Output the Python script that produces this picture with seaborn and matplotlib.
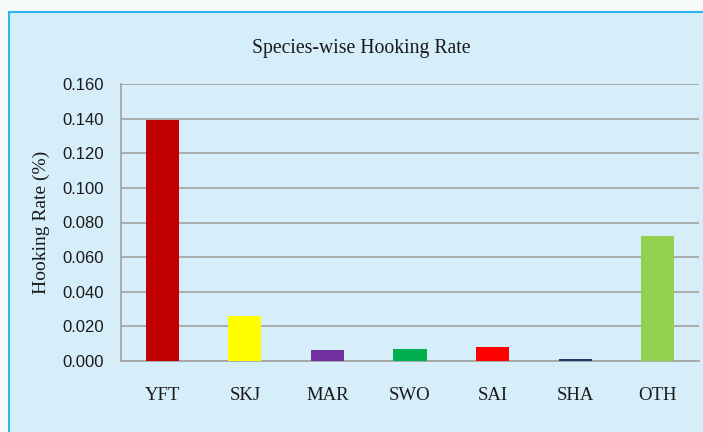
import matplotlib
matplotlib.use("Agg")
import matplotlib.pyplot as plt
import seaborn as sns
import pandas as pd
from matplotlib.patches import Rectangle

# Datos
especies = ["YFT", "SKJ", "MAR", "SWO", "SAI", "SHA", "OTH"]
tasa = [0.139, 0.026, 0.0064, 0.0069, 0.0081, 0.0012, 0.072]
colores = ["#C00000", "#FFFF00", "#7030A0", "#00B050", "#FF0000", "#1F3864", "#92D050"]
yticks = [0.0, 0.02, 0.04, 0.06, 0.08, 0.10, 0.12, 0.14, 0.16]

df = pd.DataFrame({"especie": especies, "tasa": tasa})

sns.set_style("white")
serif = ["Liberation Serif", "DejaVu Serif"]
sans = ["Liberation Sans", "DejaVu Sans"]

W, H = 703, 432
fig = plt.figure(figsize=(W / 100, H / 100), dpi=100)
fig.patch.set_facecolor("#F7FAFB")

# Recuadro de fondo azul claro
fig.patches.append(Rectangle((9 / W, -0.01), 1.0, (H - 12) / H + 0.01,
                             transform=fig.transFigure, facecolor="#D5EEF9",
                             edgecolor="#2BB5EA", linewidth=1.5, zorder=-5))

ax = fig.add_axes([121 / W, (H - 361) / H, (699 - 121) / W, (361 - 84) / H])
ax.set_zorder(2)
ax.set_facecolor("none")

sns.barplot(data=df, x="especie", y="tasa", hue="especie", palette=colores,
            width=0.4, legend=False, saturation=1, linewidth=0, ax=ax, zorder=3)

ax.set_ylim(0, 0.16)
ax.set_yticks(yticks)
ax.set_yticklabels([f"{v:.3f}" for v in yticks], family=sans, fontsize=12, color="#1a1a1a")
ax.set_xticks(range(len(especies)))
ax.set_xticklabels(especies, family=serif, fontsize=13.5, color="#1a1a1a")
ax.tick_params(axis="both", length=0)
ax.tick_params(axis="x", pad=19)
ax.tick_params(axis="y", pad=12)
ax.set_xlim(-0.5, len(especies) - 0.5)

ax.grid(axis="y", color="#A6A6A6", linewidth=1.3, zorder=0)
ax.set_axisbelow(True)
for s in ["top", "right"]:
    ax.spines[s].set_visible(False)
for s in ["left", "bottom"]:
    ax.spines[s].set_color("#A6A6A6")
    ax.spines[s].set_linewidth(1.3)

ax.set_xlabel("")
ax.set_ylabel("Hooking Rate (%)", family=serif, fontsize=14, color="#1a1a1a", labelpad=9)

fig.text(361 / W, 1 - 48 / H, "Species-wise Hooking Rate", family=serif,
         fontsize=14.2, ha="center", va="center", color="#1a1a1a", zorder=3)

fig.savefig("out.png", dpi=100)
